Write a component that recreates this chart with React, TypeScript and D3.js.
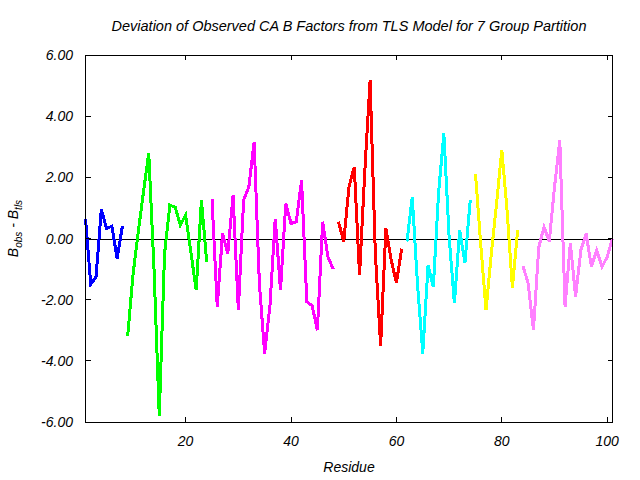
import React from 'react';
import * as d3 from 'd3';

const title = 'Deviation of Observed CA B Factors from TLS Model for 7 Group Partition';
const xLabel = 'Residue';
const xTicks = [20, 40, 60, 80, 100];
const yTicks = [-6, -4, -2, 0, 2, 4, 6];

// B_obs - B_tls per residue, one array per TLS group
const groupStarts = [1, 9, 25, 49, 62, 75, 84];
const group1 = [0.65, -1.5, -1.25, 0.95, 0.33, 0.4, -0.65, 0.4];
const group2 = [-3.2, -1.2, 0.2, 1.52, 2.8, -1.0, -5.8, -0.5, 1.09, 1.03, 0.44, 0.76, -0.45, -1.69, 1.25, -0.76];
const group3 = [1.3, -2.23, 0.16, -0.5, 1.41, -2.34, 1.25, 1.69, 3.16, -1.5, -3.76, -2.2, 0.65, -1.69, 1.14, 0.49,
  0.55, 1.9, -2.07, -2.2, -3.0, 0.55, -0.6, -1.0];
const group4 = [0.55, -0.1, 1.69, 2.34, -1.2, 2.2, 5.17, -0.5, -3.5, 0.33, -0.7, -1.45, -0.33];
const group5 = [-0.1, 1.36, -1.5, -3.76, -0.87, -1.58, 1.5, 3.43, 0.05, -2.12, 0.27, -0.8, 1.25];
const group6 = [2.12, -0.2, -2.34, -0.5, 1.14, 2.9, 0.9, -1.6, 0.27];
const group7 = [-0.89, -1.47, -3.0, -0.3, 0.38, -0.1, 1.69, 3.21, -2.23, -0.16, -1.9, -0.38, 0.16, -0.93, -0.38,
  -0.93, -0.6, 0.0];
const groupColors = ['#0000ff', '#00ff00', '#ff00ff', '#ff0000', '#00ffff', '#ffff00', '#ff80ff'];

const W = 640;
const H = 480;
const left = 85.5;
const right = 612.5;
const top = 55;
const bottom = 422;
const font = '"Liberation Sans", Arial, sans-serif';

const App: React.FC = () => {
  const x = d3.scaleLinear().domain([1, 101]).range([left, right]);
  const y = d3.scaleLinear().domain([-6, 6]).range([bottom, top]);

  const groups = [group1, group2, group3, group4, group5, group6, group7].map((vals, gi) => ({
    color: groupColors[gi],
    points: vals.map((v, i) => [groupStarts[gi] + i, v] as [number, number]),
  }));

  const line = d3.line<[number, number]>()
    .x(d => x(d[0]))
    .y(d => y(d[1]));

  const y0 = Math.round(y(0)) + 0.5;

  return (
    <svg width={W} height={H} style={{ position: 'absolute', left: 0, top: 0, background: '#fff' }}>
      <rect x={0} y={0} width={W} height={H} fill="#fff" />

      <text x={(left + right) / 2} y={31} textAnchor="middle" fontFamily={font} fontStyle="italic" fontSize={14.5}>
        {title}
      </text>

      {/* zero line */}
      <line x1={left} x2={right} y1={y0} y2={y0} stroke="#000" strokeWidth={1} shapeRendering="crispEdges" />

      {groups.map((g, i) => (
        <path key={i} d={line(g.points) || ''} fill="none" stroke={g.color} strokeWidth={3}
          shapeRendering="crispEdges" />
      ))}

      {/* frame */}
      <rect x={left} y={top} width={right - left} height={bottom - top} fill="none" stroke="#000"
        strokeWidth={1} shapeRendering="crispEdges" />

      {xTicks.map(t => (
        <g key={'x' + t}>
          <line x1={x(t)} x2={x(t)} y1={bottom} y2={bottom - 5} stroke="#000" shapeRendering="crispEdges" />
          <line x1={x(t)} x2={x(t)} y1={top} y2={top + 5} stroke="#000" shapeRendering="crispEdges" />
          <text x={x(t)} y={446} textAnchor="middle" fontFamily={font} fontStyle="italic" fontSize={14}>{t}</text>
        </g>
      ))}

      {yTicks.map(t => (
        <g key={'y' + t}>
          <line x1={left} x2={left + 5} y1={y(t)} y2={y(t)} stroke="#000" shapeRendering="crispEdges" />
          <line x1={right} x2={right - 5} y1={y(t)} y2={y(t)} stroke="#000" shapeRendering="crispEdges" />
          <text x={73} y={y(t)} dy="0.36em" textAnchor="end" fontFamily={font} fontStyle="italic" fontSize={14}>
            {t.toFixed(2)}
          </text>
        </g>
      ))}

      <text x={(left + right) / 2} y={472} textAnchor="middle" fontFamily={font} fontStyle="italic" fontSize={14}>
        {xLabel}
      </text>

      <text transform={`translate(18, ${(top + bottom) / 2 - 10}) rotate(-90)`} textAnchor="middle"
        fontFamily={font} fontStyle="italic" fontSize={14}>
        <tspan>B</tspan>
        <tspan fontSize={10} dy={4}>obs</tspan>
        <tspan dy={-4}>{' - B'}</tspan>
        <tspan fontSize={10} dy={4}>tls</tspan>
      </text>
    </svg>
  );
};

export default App;
